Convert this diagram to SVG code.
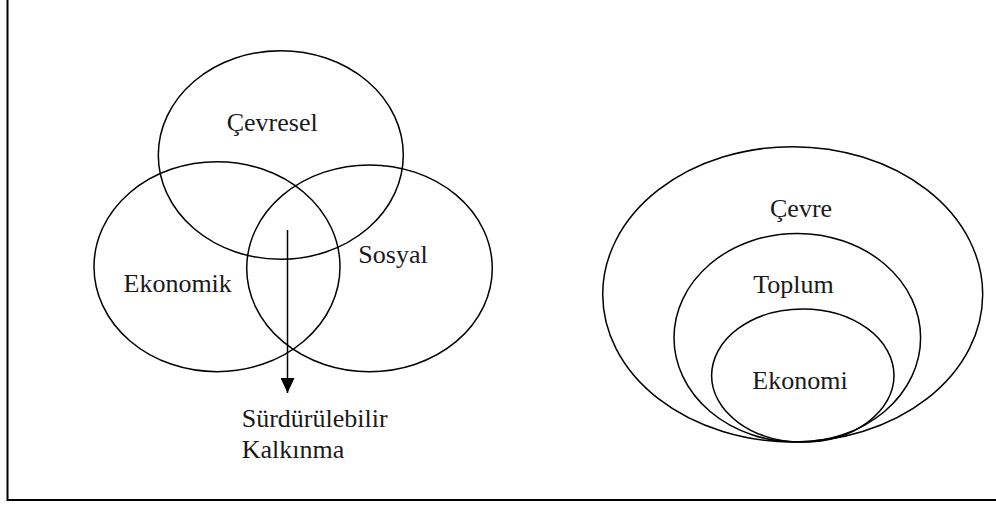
<svg xmlns="http://www.w3.org/2000/svg" width="996" height="505" viewBox="0 0 996 505">
  <style>
    .shape { fill: none; stroke: #000; stroke-width: 1.5; }
    .label { font-size: 26px; fill: #1a1a1a; }
    .frame { fill: none; stroke: #000; stroke-width: 2; }
  </style>
  <defs>
    <marker id="arrowhead" viewBox="0 0 15 14" refX="15" refY="7" markerWidth="15" markerHeight="14" markerUnits="userSpaceOnUse" orient="auto">
      <path d="M0,0 L15,7 L0,14 Z" fill="#000"/>
    </marker>
  </defs>

  <rect width="996" height="505" fill="#fff"/>

  <!-- frame: left and bottom edges -->
  <polyline class="frame" points="7.5,0 7.5,500 996,500"/>

  <g font-family="'Liberation Serif', 'DejaVu Serif', serif">
    <!-- three overlapping pillars -->
    <g id="cevresel">
      <ellipse class="shape" cx="280.8" cy="155" rx="122.5" ry="104.3"/>
      <text class="label" x="226.7" y="131">Çevresel</text>
    </g>
    <g id="ekonomik">
      <ellipse class="shape" cx="217" cy="266.7" rx="123" ry="105"/>
      <text class="label" x="123.5" y="291.7">Ekonomik</text>
    </g>
    <g id="sosyal">
      <ellipse class="shape" cx="369.5" cy="268.3" rx="122.8" ry="103.4"/>
      <text class="label" x="358.3" y="263.3">Sosyal</text>
    </g>
    <g id="surdurulebilir">
      <text class="label" x="241.7" y="427.3">Sürdürülebilir</text>
      <text class="label" x="241.7" y="458.3">Kalkınma</text>
    </g>

    <!-- nested spheres -->
    <g id="cevre">
      <ellipse class="shape" cx="792.7" cy="294.3" rx="190" ry="147.6"/>
      <text class="label" x="770" y="216.7">Çevre</text>
    </g>
    <g id="toplum">
      <ellipse class="shape" cx="797.3" cy="337.7" rx="123.3" ry="104.3"/>
      <text class="label" x="753.3" y="292.7">Toplum</text>
    </g>
    <g id="ekonomi">
      <ellipse class="shape" cx="802.8" cy="375.5" rx="91.2" ry="66.5"/>
      <text class="label" x="752.3" y="389.3">Ekonomi</text>
    </g>
  </g>

  <g id="connectors">
    <line x1="287.5" y1="230" x2="287.5" y2="393" stroke="#000" stroke-width="1.5" marker-end="url(#arrowhead)"/>
  </g>
</svg>
